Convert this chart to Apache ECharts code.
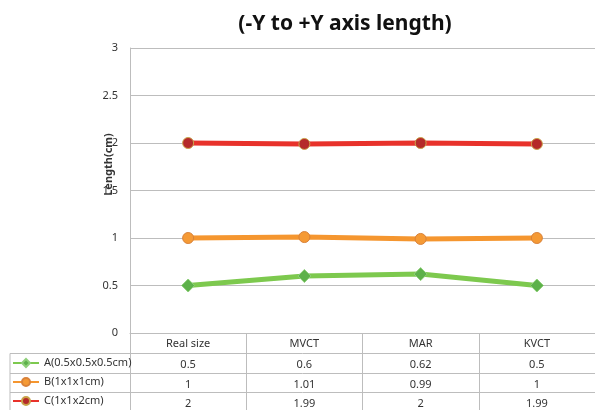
<!DOCTYPE html>
<html><head><meta charset="utf-8">
<script src="https://cdn.jsdelivr.net/npm/echarts@6/dist/echarts.min.js"></script>
<style>html,body{margin:0;padding:0;background:#fff}#c{width:595px;height:410px}</style>
</head><body><div id="c"></div>
<script>
const categories = ['Real size', 'MVCT', 'MAR', 'KVCT'];
const seriesNames = ['A(0.5x0.5x0.5cm)', 'B(1x1x1cm)', 'C(1x1x2cm)'];
const valuesA = [0.5, 0.6, 0.62, 0.5];
const valuesB = [1, 1.01, 0.99, 1];
const valuesC = [2, 1.99, 2, 1.99];
const yTicks = [0, 0.5, 1, 1.5, 2, 2.5, 3];

const allValues = [valuesA, valuesB, valuesC];
const lineColors = ['#7DC94E', '#F5962F', '#E8322B'];
const markerColors = ['#5DB14A', '#F59A35', '#B52A2A'];
const markerBorders = ['#8fd07a', '#d9823a', '#c9a24a'];
const symbols = ['diamond', 'circle', 'circle'];
const font = 'Noto Sans';
const gridCol = '#BDBDBD';

const chart = echarts.init(document.getElementById('c'), null, {renderer: 'canvas'});

const tableOffsets = [21, 41, 60];
const xAxes = [{
  type: 'category', data: categories, gridIndex: 0, position: 'bottom',
  boundaryGap: true,
  axisLine: {lineStyle: {color: gridCol}},
  axisTick: {show: true, length: 77, lineStyle: {color: gridCol}},
  axisLabel: {margin: 5, fontFamily: font, fontSize: 11, color: '#333'}
}];
allValues.forEach((vals, i) => {
  xAxes.push({
    type: 'category', data: categories, gridIndex: 0, position: 'bottom',
    offset: tableOffsets[i],
    axisLine: {show: false}, axisTick: {show: false}, splitLine: {show: false},
    axisLabel: {margin: 5, fontFamily: font, fontSize: 11, color: '#333',
      formatter: (v, idx) => String(vals[idx])}
  });
});

const series = allValues.map((vals, i) => ({
  name: seriesNames[i], type: 'line', data: vals, xAxisIndex: 0,
  symbol: symbols[i], symbolSize: symbols[i] === 'diamond' ? 13 : 11,
  lineStyle: {color: lineColors[i], width: 5},
  itemStyle: {color: markerColors[i], borderColor: markerBorders[i], borderWidth: 1},
  emphasis: {disabled: true}, animation: false
}));

const L = 10, R = 595, B = 410;
const hl = y => ({type: 'line', shape: {x1: L, y1: y, x2: R, y2: y}, style: {stroke: gridCol, lineWidth: 1}});

chart.setOption({
  backgroundColor: '#fff',
  animation: false,
  title: {text: '(-Y to +Y axis length)', left: 340, top: 9, textAlign: 'center',
    textStyle: {fontFamily: font, fontWeight: 'bold', fontSize: 21, color: '#111'}},
  grid: {left: 130, right: -2, top: 48, bottom: 77, containLabel: false},
  legend: {
    orient: 'vertical', left: 12, top: 356, itemGap: 5, itemWidth: 26, itemHeight: 10,
    padding: 0, height: 80,
    data: seriesNames,
    textStyle: {fontFamily: font, fontSize: 11, color: '#333', lineHeight: 14},
    selectedMode: false
  },
  xAxis: xAxes,
  yAxis: {
    type: 'value', min: 0, max: 3, interval: 0.5,
    name: 'Length(cm)', nameLocation: 'middle', nameGap: 16, nameRotate: 90,
    nameMoveOverlap: false,
    nameTextStyle: {fontFamily: font, fontSize: 11, fontWeight: 'bold', color: '#333', padding: [0, 0, 0, 52]},
    axisLine: {show: true, lineStyle: {color: gridCol}},
    axisTick: {show: false},
    axisLabel: {margin: 12, fontFamily: font, fontSize: 11, color: '#333',
      formatter: v => yTicks.includes(v) ? String(v) : ''},
    splitLine: {lineStyle: {color: gridCol}}
  },
  graphic: [
    hl(353.5), hl(373.5), hl(392.5),
    {type: 'line', shape: {x1: L, y1: 353.5, x2: L, y2: B}, style: {stroke: gridCol, lineWidth: 1}}
  ],
  series: series
});
</script></body></html>
